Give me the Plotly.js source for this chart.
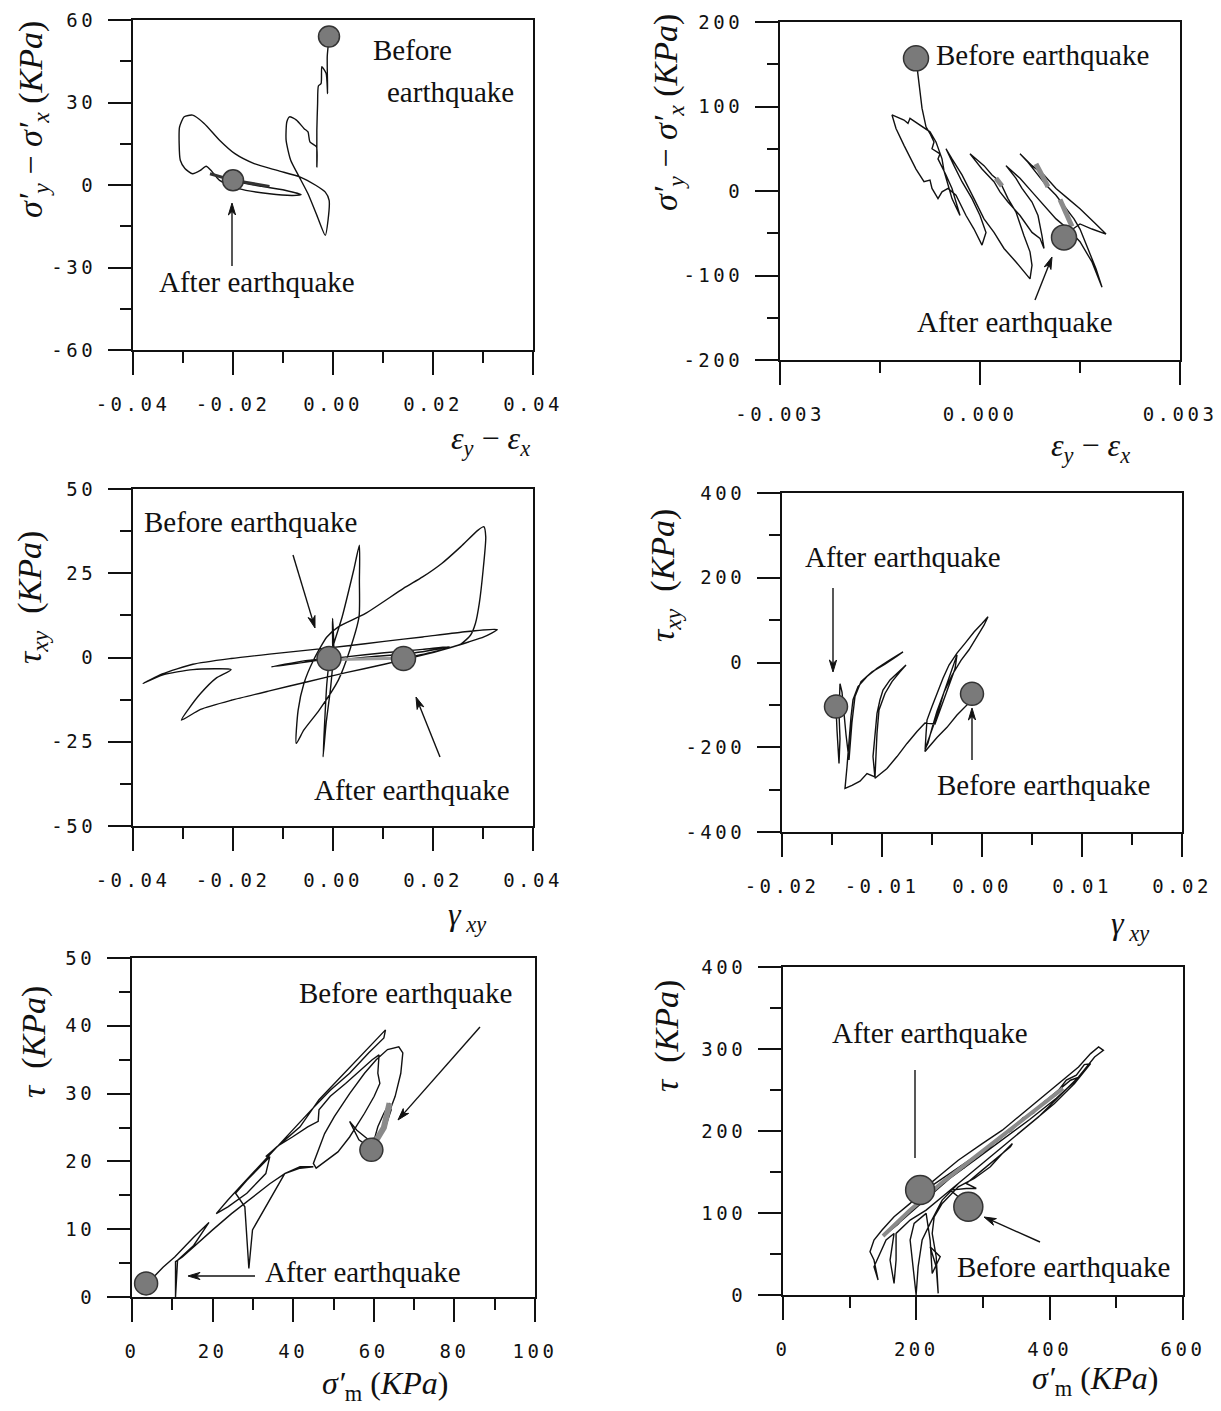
<!DOCTYPE html>
<html><head><meta charset="utf-8">
<script src="https://cdn.plot.ly/plotly-3.0.1.min.js"></script>
<style>
body{margin:0;background:#fff}
#chart{width:1221px;height:1411px}
g[class$="tick"] > text{letter-spacing:3.5px}
</style>
</head><body><div id="chart"></div>
<script>
// ---------- Panel 1: sigma'y - sigma'x vs eps_y - eps_x (left) ----------
const p1X = [-0.00077,-0.00115,-0.00108,-0.00138,-0.00223,-0.00238,-0.00292,-0.00308,-0.00323,-0.00323,
 -0.00331,-0.00462,-0.005,-0.00577,-0.00731,-0.00869,-0.00923,-0.00938,-0.00846,-0.00692,
 -0.005,-0.00308,-0.00154,-0.001,-0.00077,-0.00154,-0.00346,-0.00654,-0.01115,-0.01577,
 -0.01962,-0.02269,-0.02577,-0.02808,-0.02977,-0.03069,-0.03077,-0.03054,-0.02962,-0.02808,
 -0.02654,-0.02538,-0.02438,-0.02269,-0.01885,-0.01269,-0.00808,-0.00638,-0.00962,-0.01423,
 -0.01731,-0.02];
const p1Y = [53.9,46.7,33.3,40.6,43.0,36.9,36.0,29.6,19.9,6.6,
 13.9,15.7,19.3,20.5,23.6,24.8,23.0,16.3,9.0,3.5,
 -3.2,-11.7,-18.3,-12.9,-5.6,-2.6,-0.1,2.9,5.3,7.8,
 11.4,16.3,22.4,25.4,24.8,21.1,15.1,9.0,6.0,4.1,
 5.3,6.8,5.3,1.7,-1.3,-3.2,-3.8,-3.5,-1.9,-0.5,
 0.5,1.7];
const p1BandX = [-0.0246,-0.02,-0.0127];
const p1BandY = [4.1,1.7,-0.5];
const p1PtsX = [-0.0008,-0.02];
const p1PtsY = [54,1.7];

// ---------- Panel 2: sigma'y - sigma'x vs eps_y - eps_x (right) ----------
const p2X = [-0.00096,-0.00093,-0.00087,-0.00081,-0.00075,-0.00069,-0.00072,-0.0006,-0.00063,-0.00051,
 -0.00042,-0.00036,-0.0003,-0.00042,-0.00048,-0.00054,-0.00057,-0.00066,-0.00075,-0.0009,
 -0.00105,-0.00108,-0.00114,-0.00132,-0.00126,-0.00114,-0.00096,-0.00084,-0.00075,-0.00072,
 -0.00063,-0.00057,-0.00048,-0.00036,-0.00021,-0.00009,0.00003,0.00009,0,-0.00012,
 -0.00027,-0.00039,-0.00051,-0.00042,-0.00027,-0.00009,0.00006,0.00021,0.00036,0.00054,
 0.00066,0.00075,0.00078,0.00075,0.00066,0.00054,0.00042,0.0003,0.00018,0.00006,
 -0.00015,0.00003,0.00021,0.0003,0.00042,0.0006,0.00078,0.0009,0.00096,0.00093,
 0.00087,0.00078,0.00063,0.00054,0.00039,0.0006,0.00078,0.00096,0.00114,0.00132,
 0.0015,0.00168,0.00183,0.00174,0.00162,0.0015,0.00141,0.00126,0.00114,0.00099,
 0.00087,0.00072,0.0006,0.00078,0.00096,0.00114,0.00132,0.0015,0.00171,0.00189,
 0.00168,0.0015,0.00132,0.00126];
const p2Y = [157,139,98,76,68,58,50,44,38,19,
 3,-13,-29,-9,9,24,38,58,70,78,
 86,80,84,90,74,54,26,11,13,3,
 -9,-1,3,-5,-29,-45,-64,-49,-29,-9,
 11,30,50,38,19,-9,-33,-49,-68,-84,
 -96,-104,-88,-72,-53,-25,-9,11,19,30,
 44,26,11,-1,-13,-29,-49,-56,-68,-53,
 -29,-13,3,15,30,15,-1,-17,-33,-45,
 -60,-84,-114,-92,-68,-45,-33,-17,-5,7,
 19,34,44,30,19,3,-9,-21,-37,-51,
 -45,-39,-49,-55];
const p2BandX = [0.00024,0.00033,null,0.00084,0.00102,null,0.0012,0.00138];
const p2BandY = [15,6,null,32,5,null,-10,-42];
const p2PtsX = [-0.00096,0.00126];
const p2PtsY = [157,-55];

// ---------- Panel 3: tau_xy vs gamma_xy (left) ----------
const p3X = [-0.00084,-0.00505,-0.01233,-0.00582,0.0026,0.01026,0.01792,0.02328,0.01639,0.0072,
 0.00031,-0.00008,-0.00008,0.00015,-0.00046,-0.00138,-0.00199,-0.00161,-0.00123,-0.00061,
 0.00184,0.00413,0.00528,0.00528,0.00521,0.00337,0.00107,-0.00276,-0.00582,-0.00735,
 -0.00697,-0.00582,-0.00391,-0.00123,0.00107,0.00643,0.01409,0.01792,0.02175,0.02557,
 0.02902,0.03017,0.03055,0.03002,0.02925,0.02848,0.02749,0.02557,0.02175,0.01792,
 0.01026,0.0026,-0.00505,-0.01271,-0.02037,-0.02649,-0.03032,-0.02879,-0.02649,-0.02343,
 -0.02037,-0.02802,-0.03415,-0.03798,-0.03415,-0.02802,-0.02037,-0.01271,-0.00505,0.0026,
 0.01026,0.01792,0.02557,0.03285,0.03017,0.02711,0.02404,0.01945,0.01409];
const p3Y = [-0.3,-1.3,-2.8,-1.0,0.2,1.4,2.4,3.2,1.4,0.2,
 -0.3,6.1,11.6,3.2,-8.7,-19.6,-29.5,-17.6,-7.7,0.2,
 12.1,25.9,33.3,22.9,12.1,2.2,-6.7,-15.6,-21.5,-25.5,
 -15.6,-7.7,-0.8,6.1,9.1,13.0,20.5,23.9,27.9,32.9,
 37.8,38.8,35.8,25.9,16.0,10.1,6.6,4.0,2.2,0.7,
 -2.0,-4.5,-7.2,-9.9,-12.7,-15.4,-18.6,-15.1,-10.7,-6.2,
 -3.6,-3.6,-5.2,-7.7,-4.9,-2.0,-0.3,1.0,2.2,3.4,
 4.8,6.1,7.5,8.3,6.1,4.6,3.2,1.4,-0.3];
const p3BandX = [0.001,0.007,0.013];
const p3BandY = [-0.6,-0.4,-0.2];
const p3PtsX = [-0.0008,0.0141];
const p3PtsY = [-0.3,-0.3];

// ---------- Panel 4: tau_xy vs gamma_xy (right) ----------
const p4X = [-0.0010,-0.0015,-0.0025,-0.0035,-0.0045,-0.0052,-0.0057,-0.0056,-0.0055,-0.0050,
 -0.0045,-0.0039,-0.0033,-0.0025,-0.0017,-0.0008,0.0000,0.0006,0.0002,-0.0005,
 -0.0013,-0.0021,-0.0030,-0.0038,-0.0045,-0.0050,-0.0054,-0.0057,-0.0052,-0.0045,
 -0.0038,-0.0031,-0.0025,-0.0027,-0.0033,-0.0040,-0.0047,-0.0057,-0.0065,-0.0075,
 -0.0085,-0.0095,-0.0104,-0.0107,-0.0109,-0.0107,-0.0105,-0.0102,-0.0099,-0.0092,
 -0.0085,-0.0076,-0.0082,-0.0090,-0.0097,-0.0103,-0.0105,-0.0106,-0.0107,-0.0115,
 -0.0122,-0.0130,-0.0137,-0.0135,-0.0133,-0.0131,-0.0129,-0.0124,-0.0115,-0.0105,
 -0.0092,-0.0079,-0.0085,-0.0097,-0.0110,-0.0121,-0.0127,-0.0130,-0.0132,-0.0133,
 -0.0136,-0.0138,-0.0140,-0.0142,-0.0143,-0.0142,-0.0143,-0.0145,-0.0146];
const p4Y = [-72,-100,-124,-153,-177,-195,-210,-170,-136,-104,
 -73,-37,-6,22,45,72,92,108,88,60,
 30,5,-30,-70,-115,-155,-190,-205,-170,-125,
 -70,-20,18,-15,-55,-100,-145,-143,-163,-191,
 -222,-250,-266,-273,-222,-167,-120,-88,-65,-41,
 -25,-6,-22,-45,-73,-112,-167,-230,-270,-262,
 -280,-290,-297,-246,-183,-128,-88,-57,-33,-14,
 6,25,15,-4,-22,-45,-80,-140,-200,-230,
 -170,-110,-70,-50,-120,-180,-238,-160,-104];
const p4PtsX = [-0.0010,-0.0146];
const p4PtsY = [-74,-104];

// ---------- Panel 5: tau vs sigma'_m (left) ----------
const p5X = [59.4,61.0,62.5,63.9,64.3,62.9,61.0,58.7,55.8,54.0,
 56.3,59.4,61.5,63.4,65.3,66.7,67.2,66.2,63.4,60.6,
 57.7,54.0,50.2,47.8,46.4,45.0,45.7,48.3,51.1,54.0,
 57.7,60.1,61.5,61.0,61.3,59.6,56.8,53.0,49.2,46.4,
 46.2,43.6,39.8,36.0,33.2,37.0,41.7,46.4,51.1,55.8,
 60.1,62.9,62.5,58.7,54.0,49.2,44.5,39.8,35.1,31.3,
 27.5,23.8,20.9,23.8,28.5,33.2,34.2,28.5,25.7,28.0,
 29.0,29.9,33.2,37.9,41.7,45.0,41.7,37.9,34.2,29.4,
 24.7,20.0,16.2,12.5,10.8,10.8,11.3,15.3,19.1,15.3,
 10.6,7.7,5.8,3.5];
const p5Y = [21.7,25.1,27.1,28.6,27.6,25.1,23.6,23.2,24.6,25.9,
 23.2,21.9,24.1,26.6,29.6,33.0,36.0,36.9,36.5,35.0,
 33.0,30.0,26.6,24.1,21.9,19.7,19.0,20.2,21.4,23.6,
 27.1,29.6,31.5,33.0,35.7,35.0,33.5,31.5,29.6,27.6,
 25.9,25.1,23.6,22.2,20.7,22.7,25.1,29.1,32.0,35.0,
 37.7,39.4,38.2,36.0,33.0,30.5,27.6,24.6,21.7,19.2,
 16.7,14.3,12.3,13.3,15.3,18.2,20.7,17.2,15.3,13.3,
 4.2,9.9,13.3,18.2,19.2,19.2,19.0,18.2,16.7,14.5,
 12.3,9.9,7.9,5.9,5.2,0,5.4,7.6,11.0,8.8,
 5.9,4.4,3.2,2.0];
const p5BandX = [63.9,62.5,60.5];
const p5BandY = [28.6,25.0,23.0];
const p5PtsX = [59.4,3.5];
const p5PtsY = [21.7,2.0];

// ---------- Panel 6: tau vs sigma'_m (right) ----------
const p6X = [277.9,262.9,250.8,274.9,289.9,274.9,298.9,323.0,341.1,344.1,
 329.0,311.0,286.9,262.9,238.8,226.8,223.8,229.8,232.8,229.8,
 220.7,235.8,223.8,220.7,214.7,196.7,190.7,196.7,199.7,202.7,
 208.7,220.7,238.8,262.9,292.9,323.0,353.1,383.2,413.2,443.3,
 467.4,480.6,473.4,461.4,443.3,419.2,389.2,359.1,329.0,298.9,
 262.9,238.8,214.7,190.7,166.6,148.6,136.5,130.5,136.5,142.6,
 136.5,154.6,166.6,160.6,166.6,169.6,169.6,190.7,214.7,244.8,
 274.9,305.0,335.0,371.1,407.2,437.3,461.4,
 452,440,425,410,392,376,360,342,325,308,290,272,255,238,222,205,188,172,160,
 185,215,250,290,330,370,410,445,
 431.3,395.2,359.1,323.0,286.9,250.8,220.7,205.7];
const p6Y = [107.6,119.8,127.9,129.9,129.9,136.0,152.3,168.5,180.7,184.7,
 172.6,156.3,142.1,132.0,111.7,95.4,75.1,46.7,2.0,34.5,
 58.9,46.7,26.4,67.0,99.5,87.3,67.0,26.4,0,34.5,
 67.0,87.3,115.7,136.0,156.3,176.6,196.9,217.2,241.6,265.9,
 290.3,298.4,302.5,294.4,278.1,261.9,241.6,221.3,201.0,184.7,
 164.4,148.2,131.9,111.7,95.4,79.2,67.0,52.8,42.6,18.3,
 34.5,67.0,75.1,42.6,14.2,42.6,75.1,91.4,103.5,123.8,
 144.1,164.4,184.7,209.1,233.5,257.8,282.2,
 281,268,262,246,236,222,216,200,193,178,170,155,148,134,124,110,100,86,78,
 96,118,142,166,190,214,240,266,
 261.9,237.5,213.2,188.8,168.5,148.2,131.9,127.9];
const p6BandX = [150,190,240,300,360,420];
const p6BandY = [72,103,138,176,213,252];
const p6PtsX = [278,205.7];
const p6PtsY = [107.6,128];

// ---------- Tick values / labels ----------
const tkStrainL = [-0.04,-0.02,0,0.02,0.04];
const tkStrainLTxt = ["-0.04","-0.02","0.00","0.02","0.04"];
const tkStrainLMin = [-0.03,-0.01,0.01,0.03];
const tkP1Y = [-60,-30,0,30,60];
const tkP1YTxt = ["-60","-30","0","30","60"];
const tkP1YMin = [-45,-15,15,45];
const tkP2X = [-0.003,0,0.003];
const tkP2XTxt = ["-0.003","0.000","0.003"];
const tkP2XMin = [-0.0015,0.0015];
const tkP2Y = [-200,-100,0,100,200];
const tkP2YTxt = ["-200","-100","0","100","200"];
const tkP2YMin = [-150,-50,50,150];
const tkP3Y = [-50,-25,0,25,50];
const tkP3YTxt = ["-50","-25","0","25","50"];
const tkP3YMin = [-37.5,-12.5,12.5,37.5];
const tkP4X = [-0.02,-0.01,0,0.01,0.02];
const tkP4XTxt = ["-0.02","-0.01","0.00","0.01","0.02"];
const tkP4XMin = [-0.015,-0.005,0.005,0.015];
const tkP4Y = [-400,-200,0,200,400];
const tkP4YTxt = ["-400","-200","0","200","400"];
const tkP4YMin = [-300,-100,100,300];
const tkP5X = [0,20,40,60,80,100];
const tkP5XTxt = ["0","20","40","60","80","100"];
const tkP5XMin = [10,30,50,70,90];
const tkP5Y = [0,10,20,30,40,50];
const tkP5YTxt = ["0","10","20","30","40","50"];
const tkP5YMin = [5,15,25,35,45];
const tkP6X = [0,200,400,600];
const tkP6XTxt = ["0","200","400","600"];
const tkP6XMin = [100,300,500];
const tkP6Y = [0,100,200,300,400];
const tkP6YTxt = ["0","100","200","300","400"];
const tkP6YMin = [50,150,250,350];

// ---------- layout helpers ----------
const W = 1221, H = 1411;
const ink = '#111';
const panels = [
  {xpx:[133,533], ypx:[20,350], xr:[-0.04,0.04], yr:[-60,60], xt:tkStrainL, xtt:tkStrainLTxt, xm:tkStrainLMin, yt:tkP1Y, ytt:tkP1YTxt, ym:tkP1YMin,
   lx:p1X, ly:p1Y, bx:p1BandX, by:p1BandY, bc:'#333', bw:3, mx:p1PtsX, my:p1PtsY, ms:21, smooth:true},
  {xpx:[780,1180], ypx:[22,360], xr:[-0.003,0.003], yr:[-200,200], xt:tkP2X, xtt:tkP2XTxt, xm:tkP2XMin, yt:tkP2Y, ytt:tkP2YTxt, ym:tkP2YMin,
   lx:p2X, ly:p2Y, bx:p2BandX, by:p2BandY, bc:'#8a8a8a', bw:5, mx:p2PtsX, my:p2PtsY, ms:25, smooth:false},
  {xpx:[133,533], ypx:[489,826], xr:[-0.04,0.04], yr:[-50,50], xt:tkStrainL, xtt:tkStrainLTxt, xm:tkStrainLMin, yt:tkP3Y, ytt:tkP3YTxt, ym:tkP3YMin,
   lx:p3X, ly:p3Y, bx:p3BandX, by:p3BandY, bc:'#9a9a9a', bw:3, mx:p3PtsX, my:p3PtsY, ms:24, smooth:true},
  {xpx:[782,1182], ypx:[493,832], xr:[-0.02,0.02], yr:[-400,400], xt:tkP4X, xtt:tkP4XTxt, xm:tkP4XMin, yt:tkP4Y, ytt:tkP4YTxt, ym:tkP4YMin,
   lx:p4X, ly:p4Y, bx:null, by:null, mx:p4PtsX, my:p4PtsY, ms:23, smooth:false},
  {xpx:[132,535], ypx:[958,1297], xr:[0,100], yr:[0,50], xt:tkP5X, xtt:tkP5XTxt, xm:tkP5XMin, yt:tkP5Y, ytt:tkP5YTxt, ym:tkP5YMin,
   lx:p5X, ly:p5Y, bx:p5BandX, by:p5BandY, bc:'#8a8a8a', bw:6, mx:p5PtsX, my:p5PtsY, ms:23, smooth:false},
  {xpx:[783,1183], ypx:[967,1295], xr:[0,600], yr:[0,400], xt:tkP6X, xtt:tkP6XTxt, xm:tkP6XMin, yt:tkP6Y, ytt:tkP6YTxt, ym:tkP6YMin,
   lx:p6X, ly:p6Y, bx:p6BandX, by:p6BandY, bc:'#8a8a8a', bw:4, mx:p6PtsX, my:p6PtsY, ms:29, smooth:false}
];

const layout = {
  width: W, height: H, margin:{l:0,r:0,t:0,b:0},
  paper_bgcolor:'#fff', plot_bgcolor:'#fff', showlegend:false,
  annotations: [], shapes: []
};
const data = [];

function axisBase(){
  return {showline:true, linecolor:ink, linewidth:2, mirror:true, ticks:'outside', ticklen:23, tickwidth:2, tickcolor:ink,
    showgrid:false, zeroline:false, tickmode:'array', fixedrange:true,
    tickfont:{family:'DejaVu Sans Mono, Liberation Mono, monospace', size:19, color:ink}};
}

panels.forEach((p,i)=>{
  const n = i===0 ? '' : String(i+1);
  const xa = axisBase(), ya = axisBase();
  Object.assign(xa, {domain:[p.xpx[0]/W, p.xpx[1]/W], range:p.xr, anchor:'y'+n, tickvals:p.xt, ticktext:p.xtt, ticklabelstandoff:13,
    minor:{tickmode:'array', tickvals:p.xm, ticks:'outside', ticklen:11, tickwidth:2, tickcolor:ink, showgrid:false}});
  Object.assign(ya, {domain:[1-p.ypx[1]/H, 1-p.ypx[0]/H], range:p.yr, anchor:'x'+n, tickvals:p.yt, ticktext:p.ytt, ticklabelstandoff:8,
    minor:{tickmode:'array', tickvals:p.ym, ticks:'outside', ticklen:11, tickwidth:2, tickcolor:ink, showgrid:false}});
  layout['xaxis'+n] = xa; layout['yaxis'+n] = ya;
  const ax = {xaxis:'x'+n, yaxis:'y'+n};
  data.push(Object.assign({type:'scatter', mode:'lines', x:p.lx, y:p.ly, hoverinfo:'skip',
    line:{color:ink, width:1.4, shape:p.smooth?'spline':'linear', smoothing:0.6}, cliponaxis:true}, ax));
  if (p.bx) data.push(Object.assign({type:'scatter', mode:'lines', x:p.bx, y:p.by, hoverinfo:'skip', connectgaps:false,
    line:{color:p.bc, width:p.bw}}, ax));
  data.push(Object.assign({type:'scatter', mode:'markers', x:p.mx, y:p.my, hoverinfo:'skip',
    marker:{size:p.ms, color:'#7a7a7a', line:{color:'#333', width:1.5}}}, ax));
});

// text labels at pixel positions
function T(text, x, y, opt){
  layout.annotations.push(Object.assign({text:text, xref:'paper', yref:'paper', x:x/W, y:1-y/H, showarrow:false,
    xanchor:'center', yanchor:'middle', font:{family:'Liberation Serif, Times New Roman, serif', size:29, color:ink}}, opt||{}));
}
// arrows drawn as shapes (shaft + narrow filled head), pixel positions
function A(hx, hy, tx, ty, head){
  const dx = hx-tx, dy = hy-ty, L = Math.hypot(dx,dy), ux = dx/L, uy = dy/L, nx = -uy, ny = ux;
  const hl = head===0 ? 0 : 12, hw = 3.6;
  const sx = hx - ux*(head===0?0:hl*0.6), sy = hy - uy*(head===0?0:hl*0.6);
  layout.shapes.push({type:'line', xref:'paper', yref:'paper', x0:tx/W, y0:1-ty/H, x1:sx/W, y1:1-sy/H,
    line:{color:ink, width:1.4}});
  if (head!==0){
    const bx = hx-ux*hl, by = hy-uy*hl;
    const pts = [[hx,hy],[bx+nx*hw,by+ny*hw],[hx-ux*hl*0.7,hy-uy*hl*0.7],[bx-nx*hw,by-ny*hw]];
    const path = 'M' + pts.map(q=>(q[0]/W).toFixed(5)+','+(1-q[1]/H).toFixed(5)).join(' L') + ' Z';
    layout.shapes.push({type:'path', xref:'paper', yref:'paper', path:path, fillcolor:ink, line:{color:ink, width:1}});
  }
}
const tf = {family:'Liberation Serif, Times New Roman, serif', size:34, color:ink};
const xf = {family:'Liberation Serif, Times New Roman, serif', size:32, color:ink};

// Panel 1
T('Before', 371, 50, {xanchor:'left'});
T('earthquake', 385, 92, {xanchor:'left'});
T('After earthquake', 257, 282);
A(232, 203, 232, 266);
T('<i>σ′<sub>y</sub></i> − <i>σ′<sub>x</sub></i> (<i>KPa</i>)', 33, 120, {textangle:-90, font:tf});
T('<i>ε<sub>y</sub></i> − <i>ε<sub>x</sub></i>', 490, 440, {font:xf});
// Panel 2
T('Before earthquake', 934, 55, {xanchor:'left'});
T('After earthquake', 1015, 322);
A(1052, 257, 1035, 300);
T('<i>σ′<sub>y</sub></i> − <i>σ′<sub>x</sub></i> (<i>KPa</i>)', 668, 113, {textangle:-90, font:tf});
T('<i>ε<sub>y</sub></i> − <i>ε<sub>x</sub></i>', 1090, 447, {font:xf});
// Panel 3
T('Before earthquake', 250, 522);
A(315, 628, 293, 555);
T('After earthquake', 412, 790);
A(416, 697, 440, 757);
T('<i>τ<sub>xy</sub></i>  (<i>KPa</i>)', 32, 598, {textangle:-90, font:tf});
T('<i>γ<sub> xy</sub></i>', 467, 917, {font:xf});
// Panel 4
T('After earthquake', 903, 557);
A(833, 672, 833, 588);
T('Before earthquake', 1043, 785);
A(972, 708, 972, 760);
T('<i>τ<sub>xy</sub></i>  (<i>KPa</i>)', 665, 576, {textangle:-90, font:tf});
T('<i>γ<sub> xy</sub></i>', 1130, 925, {font:xf});
// Panel 5
T('Before earthquake', 405, 993);
A(398, 1120, 480, 1027);
T('After earthquake', 363, 1272);
A(188, 1276, 255, 1276);
T('<i>τ</i>  (<i>KPa</i>)', 34, 1042, {textangle:-90, font:tf});
T('<i>σ′</i><sub>m</sub> (<i>KPa</i>)', 385, 1385, {font:xf});
// Panel 6
T('After earthquake', 930, 1033);
A(915, 1158, 915, 1070, 0);
T('Before earthquake', 1063, 1267);
A(984, 1217, 1040, 1242);
T('<i>τ</i>  (<i>KPa</i>)', 667, 1036, {textangle:-90, font:tf});
T('<i>σ′</i><sub>m</sub> (<i>KPa</i>)', 1095, 1380, {font:xf});

Plotly.newPlot('chart', data, layout, {staticPlot:true, displayModeBar:false});
</script>
</body></html>
